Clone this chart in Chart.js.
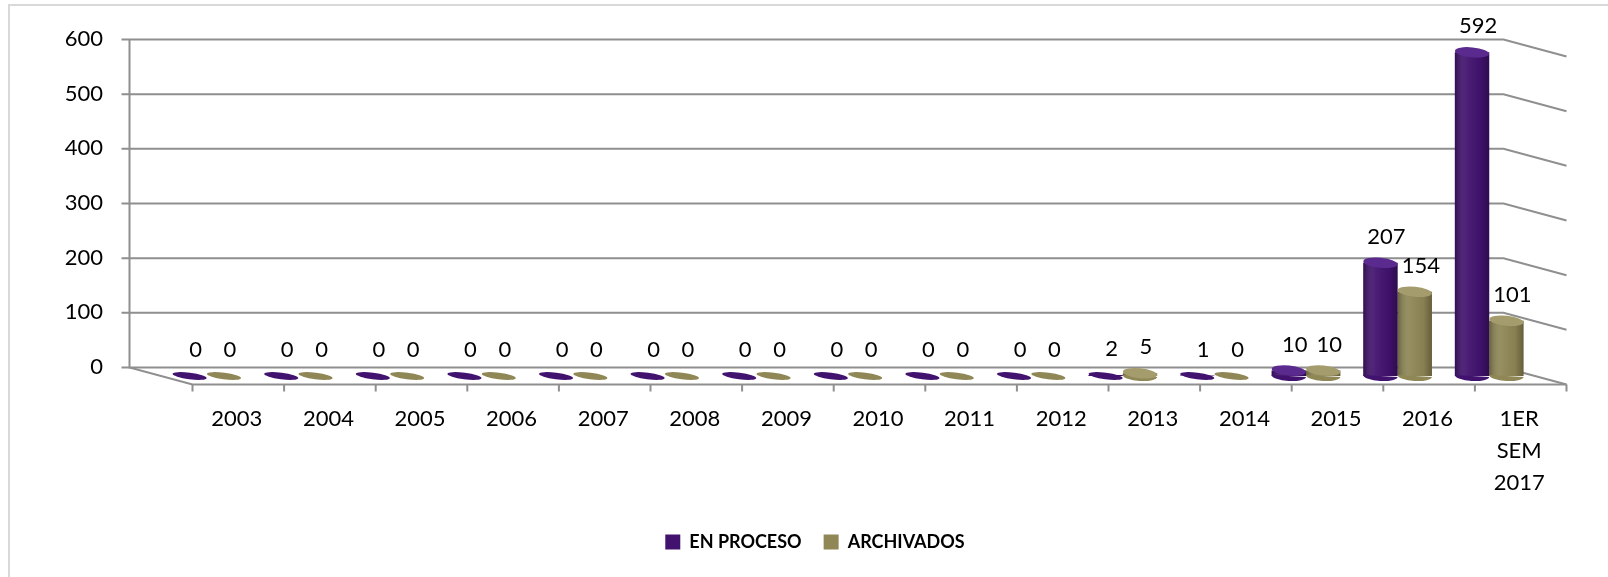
<!DOCTYPE html>
<html>
<head>
<meta charset="utf-8">
<script src="https://cdn.jsdelivr.net/npm/chart.js@4.4.1/dist/chart.umd.min.js"></script>
<style>
  html, body { margin: 0; padding: 0; background: #ffffff; }
  #wrap { position: relative; width: 1608px; height: 577px; overflow: hidden; }
  #frame { position: absolute; left: 8px; top: 4px; width: 1700px; height: 700px;
           border-left: 2px solid #d9d9d9; border-top: 2px solid #d9d9d9; box-sizing: border-box; }
  canvas { position: absolute; left: 0; top: 0; }
</style>
</head>
<body>
<div id="wrap">
  <div id="frame"></div>
  <canvas id="c" width="1608" height="577"></canvas>
</div>
<script>
// ---- data ----
const categories = ['2003','2004','2005','2006','2007','2008','2009','2010','2011','2012','2013','2014','2015','2016',['1ER','SEM','2017']];
const enProceso  = [0,0,0,0,0,0,0,0,0,0,2,1,10,207,592];
const archivados = [0,0,0,0,0,0,0,0,0,0,5,0,10,154,101];
const seriesNames = ['EN PROCESO','ARCHIVADOS'];
const yMin = 0, yMax = 600, yStep = 100;

// ---- styles ----
const FONT = 'Lato, "Open Sans", "DejaVu Sans", sans-serif';
const PURPLE = '#42126f', PURPLE_TOP = '#5b2a8e';
const GOLD = '#8f8756', GOLD_TOP = '#a49c6c';
const GRID = '#8f8f8f';
const DEPTH_X = 63, DEPTH_Y = 17;   // 3D depth of the floor/walls

function fixedSize(prop, value) {
  return s => {
    s[prop] = value;
    s.paddingTop = 0; s.paddingBottom = 0; s.paddingLeft = 0; s.paddingRight = 0;
  };
}

const wallsPlugin = {
  id: 'walls',
  beforeDatasetsDraw(chart) {
    const {ctx, chartArea: ca, scales: {y}} = chart;
    const bx = -DEPTH_X / 2, by = -DEPTH_Y / 2;  // back wall offset
    ctx.save();
    ctx.strokeStyle = GRID;
    ctx.lineWidth = 2;
    y.ticks.map(t => t.value).forEach(v => {
      const yy = y.getPixelForValue(v) + by;
      ctx.beginPath();
      ctx.moveTo(ca.left + bx - 8, yy);
      ctx.lineTo(ca.right + bx, yy);
      ctx.lineTo(ca.right + bx + DEPTH_X, yy + DEPTH_Y);
      ctx.stroke();
    });
    const yTop = y.getPixelForValue(yMax) + by, yBot = y.getPixelForValue(yMin) + by;
    ctx.beginPath();
    ctx.moveTo(ca.left + bx, yTop);
    ctx.lineTo(ca.left + bx, yBot);
    ctx.lineTo(ca.left + bx + DEPTH_X, yBot + DEPTH_Y);
    ctx.lineTo(ca.right + bx + DEPTH_X, yBot + DEPTH_Y);
    ctx.stroke();
    const n = categories.length;
    const cw = (ca.right - ca.left) / n;
    for (let i = 0; i <= n; i++) {
      const xx = ca.left + bx + DEPTH_X + i * cw;
      ctx.beginPath();
      ctx.moveTo(xx, yBot + DEPTH_Y);
      ctx.lineTo(xx, yBot + DEPTH_Y + 7);
      ctx.stroke();
    }
    ctx.restore();
  }
};

const cylinderPlugin = {
  id: 'cylinders',
  afterDatasetsDraw(chart) {
    const {ctx} = chart;
    ctx.save();
    chart.data.datasets.forEach((ds, di) => {
      const meta = chart.getDatasetMeta(di);
      const body = di === 0 ? PURPLE : GOLD;
      const top = di === 0 ? PURPLE_TOP : GOLD_TOP;
      meta.data.forEach((bar) => {
        const p = bar.getProps(['x','y','base','width'], true);
        const rx = p.width / 2;
        const h = p.base - p.y;
        if (h < 2) {
          ctx.fillStyle = body;
          ctx.beginPath();
          ctx.ellipse(p.x, p.base, rx, 3.2, 0.13, 0, Math.PI * 2);
          ctx.fill();
          return;
        }
        const g = ctx.createLinearGradient(p.x - rx, 0, p.x + rx, 0);
        g.addColorStop(0, 'rgba(0,0,0,0.28)');
        g.addColorStop(0.35, 'rgba(255,255,255,0.06)');
        g.addColorStop(0.75, 'rgba(0,0,0,0.05)');
        g.addColorStop(1, 'rgba(0,0,0,0.30)');
        ctx.fillStyle = g;
        ctx.fillRect(p.x - rx, p.y, p.width, h);
        ctx.fillStyle = body;
        ctx.beginPath();
        ctx.ellipse(p.x, p.base, rx, 5, 0.06, 0, Math.PI);
        ctx.fill();
        ctx.fillStyle = top;
        ctx.beginPath();
        ctx.ellipse(p.x, p.y, rx, 5, 0.1, 0, Math.PI * 2);
        ctx.fill();
      });
    });
    ctx.restore();
  }
};

const labelPlugin = {
  id: 'valueLabels',
  afterDatasetsDraw(chart) {
    const {ctx} = chart;
    ctx.save();
    ctx.font = '22px ' + FONT;
    ctx.fillStyle = '#000';
    ctx.textAlign = 'center';
    ctx.textBaseline = 'middle';
    chart.data.datasets.forEach((ds, di) => {
      const meta = chart.getDatasetMeta(di);
      meta.data.forEach((bar, i) => {
        const p = bar.getProps(['x','y'], true);
        ctx.fillText(String(ds.data[i]), p.x + 6, p.y - 26);
      });
    });
    ctx.restore();
  }
};

new Chart(document.getElementById('c'), {
  type: 'bar',
  data: {
    labels: categories,
    datasets: [
      { label: seriesNames[0], data: enProceso, backgroundColor: PURPLE, borderWidth: 0,
        categoryPercentage: 0.75, barPercentage: 1.0 },
      { label: seriesNames[1], data: archivados, backgroundColor: GOLD, borderWidth: 0,
        categoryPercentage: 0.75, barPercentage: 1.0 }
    ]
  },
  options: {
    responsive: false,
    animation: false,
    layout: { autoPadding: false, padding: { left: 22, right: 0, top: 48, bottom: 16 } },
    plugins: {
      tooltip: { enabled: false },
      legend: {
        position: 'bottom',
        labels: {
          boxWidth: 15, boxHeight: 15, padding: 22, color: '#000',
          font: { family: FONT, size: 18, weight: 'bold' }
        }
      }
    },
    scales: {
      x: {
        grid: { display: false, drawTicks: false },
        border: { display: false },
        ticks: { color: '#000', font: { family: FONT, size: 22, lineHeight: 1.45 },
                 padding: 27, labelOffset: 30, maxRotation: 0, autoSkip: false },
        afterFit: fixedSize('height', 135)
      },
      y: {
        min: yMin, max: yMax,
        grid: { display: false, drawTicks: false },
        border: { display: false },
        ticks: { stepSize: yStep, color: '#000', font: { family: FONT, size: 22 },
                 padding: 58, labelOffset: -9 },
        afterFit: fixedSize('width', 139)
      },
      // empty right-hand side space (depth of the 3D side wall)
      side: {
        type: 'linear', position: 'right', display: true,
        grid: { display: false, drawTicks: false },
        border: { display: false },
        ticks: { display: false },
        afterFit: fixedSize('width', 73)
      }
    }
  },
  plugins: [wallsPlugin, cylinderPlugin, labelPlugin]
});
</script>
</body>
</html>
